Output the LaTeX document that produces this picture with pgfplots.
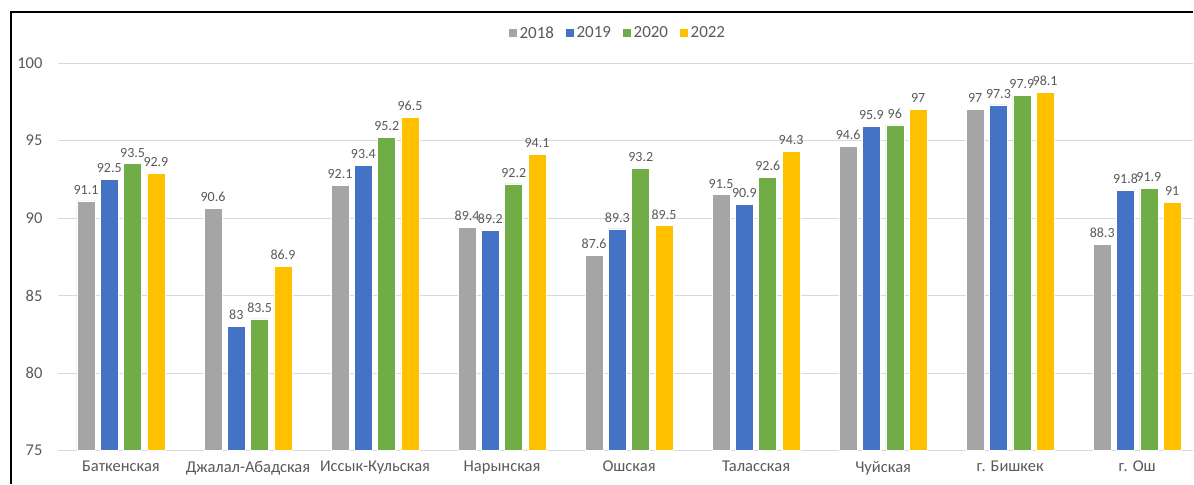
\documentclass[border=0pt]{standalone}
\usepackage{pgfplots}
\pgfplotsset{compat=1.18}
\usepackage{fontspec}
\setmainfont{Carlito}
\definecolor{c18}{HTML}{A5A5A5}
\definecolor{c19}{HTML}{4472C4}
\definecolor{c20}{HTML}{70AD47}
\definecolor{c22}{HTML}{FFC000}
\definecolor{txt}{HTML}{595959}
\definecolor{grd}{HTML}{D9D9D9}
\begin{document}
\begin{tikzpicture}
\path (0,0) rectangle (1194bp,484bp);
\draw[black, line width=2bp] (11bp,0bp) -- (11bp,472bp) -- (1194bp,472bp);
\begin{axis}[
  at={(58bp,33bp)}, anchor=south west,
  scale only axis, width=1136bp, height=388bp,
  xmin=-0.496, xmax=8.44, ymin=75, ymax=100,
  ytick={75,80,...,100},
  xtick={0,...,8},
  xticklabels={Баткенская,Джалал-Абадская,Иссык-Кульская,Нарынская,Ошская,Таласская,Чуйская,г. Бишкек,г. Ош},
  /pgf/number format/assume math mode=true,
  ymajorgrids, grid style={grd, line width=0.8bp},
  axis line style={draw=none},
  major tick length=0pt,
  tick label style={font=\fontsize{16.5bp}{19bp}\selectfont, text=txt},
  yticklabel style={xshift=-12bp},
  xticklabel style={yshift=-7bp},
  nodes near coords,
  every node near coord/.append style={font=\fontsize{14bp}{16bp}\selectfont, text=txt, yshift=3bp},
  legend style={at={(0.493,1.077)}, anchor=center, draw=none, fill=none,
    legend columns=-1, font=\fontsize{17bp}{19bp}\selectfont, text=txt,
    /tikz/every even column/.append style={column sep=9bp},
    nodes={inner sep=2bp}},
  legend image code/.code={\fill[#1] (0bp,-4.5bp) rectangle (9bp,4.5bp);},
  clip=true,
]
\addplot[ybar, bar width=18bp, bar shift=-35bp, fill=c18, draw=white, line width=0.6bp, every node near coord/.append style={xshift=-35bp}] coordinates {(0,91.1) (1,90.6) (2,92.1) (3,89.4) (4,87.6) (5,91.5) (6,94.6) (7,97) (8,88.3)};
\addplot[ybar, bar width=18bp, bar shift=-11.7bp, fill=c19, draw=white, line width=0.6bp, every node near coord/.append style={xshift=-11.7bp}] coordinates {(0,92.5) (1,83) (2,93.4) (3,89.2) (4,89.3) (5,90.9) (6,95.9) (7,97.3) (8,91.8)};
\addplot[ybar, bar width=18bp, bar shift=11.7bp, fill=c20, draw=white, line width=0.6bp, every node near coord/.append style={xshift=11.7bp}] coordinates {(0,93.5) (1,83.5) (2,95.2) (3,92.2) (4,93.2) (5,92.6) (6,96) (7,97.9) (8,91.9)};
\addplot[ybar, bar width=18bp, bar shift=35bp, fill=c22, draw=white, line width=0.6bp, every node near coord/.append style={xshift=35bp}] coordinates {(0,92.9) (1,86.9) (2,96.5) (3,94.1) (4,89.5) (5,94.3) (6,97) (7,98.1) (8,91)};
\legend{2018,2019,2020,2022}
\end{axis}
\end{tikzpicture}
\end{document}
